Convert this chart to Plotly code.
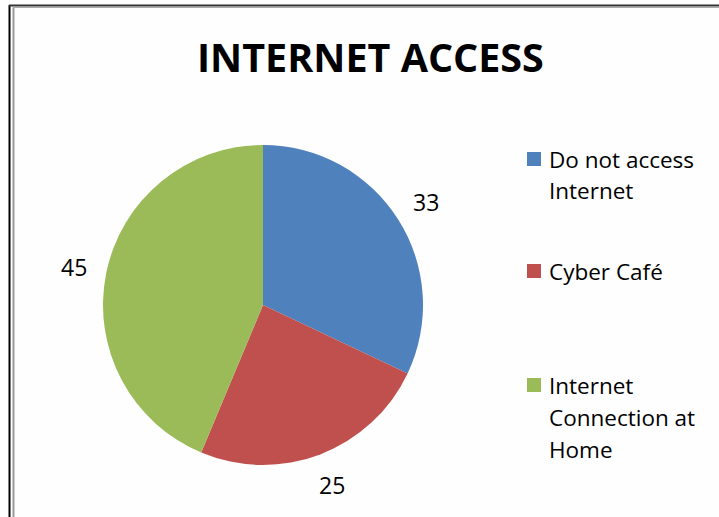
import math
import plotly.graph_objects as go

labels = ["Do not access<br>Internet", "Cyber Café", "Internet<br>Connection at<br>Home"]
values = [33, 25, 45]
colors = ["#4F81BD", "#C0504D", "#9BBB59"]
title = "INTERNET ACCESS"

W, H = 719, 517
def px(x): return x / W
def py(y): return 1 - y / H

CX, CY, R = 263, 305, 160
FONT = "Open Sans"

fig = go.Figure(go.Pie(
    labels=labels, values=values, sort=False, direction="clockwise", rotation=0,
    marker=dict(colors=colors, line=dict(width=0)),
    textinfo="none", showlegend=False, hoverinfo="label+value",
    domain=dict(x=[px(CX - R), px(CX + R)], y=[py(CY + R), py(CY - R)]),
))

shapes = [
    dict(type="line", xref="paper", yref="paper", x0=px(9.5), x1=px(9.5), y0=py(5), y1=py(517), line=dict(color="#000000", width=2)),
    dict(type="line", xref="paper", yref="paper", x0=px(13.5), x1=px(13.5), y0=py(7), y1=py(517), line=dict(color="#999999", width=2)),
    dict(type="line", xref="paper", yref="paper", x0=px(9), x1=px(719), y0=py(5.5), y1=py(5.5), line=dict(color="#333333", width=2)),
    dict(type="line", xref="paper", yref="paper", x0=px(13), x1=px(719), y0=py(7.5), y1=py(7.5), line=dict(color="#aaaaaa", width=1)),
]
annotations = [dict(text="<b>%s</b>" % title, x=px(370), y=py(57), xref="paper", yref="paper",
                    xanchor="center", yanchor="middle", showarrow=False,
                    font=dict(family=FONT, size=39.5, color="#000000"))]

# value labels placed outside each slice at its mid-angle
total = sum(values)
cum = 0
for v in values:
    mid = (cum + v / 2) / total * 2 * math.pi
    cum += v
    rr = R + 33
    x = CX + rr * math.sin(mid)
    y = CY - rr * math.cos(mid)
    annotations.append(dict(text=str(v), x=px(x), y=py(y), xref="paper", yref="paper",
                            xanchor="center", yanchor="middle", showarrow=False,
                            font=dict(family=FONT, size=23, color="#000000")))

legend_top = [159, 271, 385]
line_gap = 32
for lab, col, yt in zip(labels, colors, legend_top):
    shapes.append(dict(type="rect", xref="paper", yref="paper", x0=px(527), x1=px(541),
                       y0=py(yt - 7), y1=py(yt + 7), fillcolor=col, line=dict(width=0)))
    for i, line in enumerate(lab.split("<br>")):
        annotations.append(dict(text=line, x=px(547), y=py(yt + i * line_gap), xref="paper", yref="paper",
                                xanchor="left", yanchor="middle", showarrow=False,
                                font=dict(family=FONT, size=22.5, color="#000000")))

fig.update_layout(width=W, height=H, margin=dict(l=0, r=0, t=0, b=0),
                  paper_bgcolor="#FEFEFE", plot_bgcolor="#FEFEFE",
                  shapes=shapes, annotations=annotations)
fig.write_html("out.html")
